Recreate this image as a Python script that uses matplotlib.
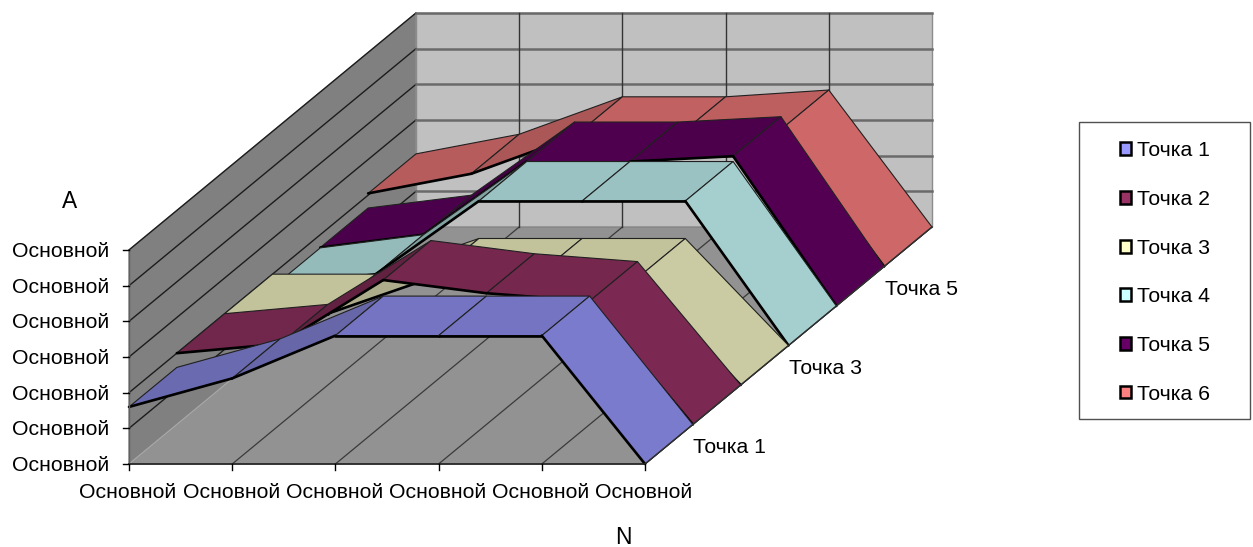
import numpy as np
import matplotlib
matplotlib.use("Agg")
import matplotlib.pyplot as plt
from matplotlib.patches import Polygon, Patch, Rectangle

plt.rcParams['font.family'] = ['Liberation Sans', 'DejaVu Sans']

categories = ["Основной"] * 6
value_labels = ["Основной"] * 7
series_names = ["Точка 1", "Точка 2", "Точка 3", "Точка 4", "Точка 5", "Точка 6"]
depth_labels = {0: "Точка 1", 2: "Точка 3", 4: "Точка 5"}

series_1 = [1.6, 2.4, 3.6, 3.6, 3.6, 0]
series_2 = [2.0, 2.26, 4.05, 3.68, 3.46, 0]
series_3 = [2.0, 2.0, 3.0, 3.0, 3.0, 0]
series_4 = [1.63, 2.0, 4.05, 4.05, 4.05, 0]
series_5 = [1.64, 2.0, 4.05, 4.05, 4.2, 0]
series_6 = [2.05, 2.6, 3.65, 3.65, 3.84, 0]
all_series = [series_1, series_2, series_3, series_4, series_5, series_6]

colors = ["#9999FF", "#993366", "#FFFFCC", "#CCFFFF", "#660066", "#FF8080"]

# oblique projection of the 3d box: origin, then px per category, series, value
X0, Y0 = 129.0, 464.0
CAT_X = 103.2
SER_X, SER_Y = 47.83, -39.5
VAL_Y = -35.67
FONT = 15.35


def proj(cat, ser, val):
    return (X0 + CAT_X * cat + SER_X * ser, Y0 + SER_Y * ser + VAL_Y * val)


def shade(color, slope):
    # steeper rising faces get less light
    f = np.interp(slope, [-4, 0, 1.5], [0.81, 0.76, 0.64])
    r, g, b = matplotlib.colors.to_rgb(color)
    return (r * f, g * f, b * f)


fig = plt.figure(figsize=(12.53, 5.47), dpi=100)
ax = fig.add_axes([0, 0, 1, 1])
ax.set_xlim(0, 1253)
ax.set_ylim(547, 0)
ax.axis("off")

n_cat = len(categories) - 1
n_ser = len(all_series)
n_val = len(value_labels) - 1

# walls and floor
left_wall = [proj(0, 0, 0), proj(0, n_ser, 0), proj(0, n_ser, n_val), proj(0, 0, n_val)]
back_wall = [proj(0, n_ser, 0), proj(n_cat, n_ser, 0), proj(n_cat, n_ser, n_val), proj(0, n_ser, n_val)]
floor = [proj(0, 0, 0), proj(n_cat, 0, 0), proj(n_cat, n_ser, 0), proj(0, n_ser, 0)]
ax.add_patch(Polygon(left_wall, fc="#808080", ec="#8c8c8c", lw=1, zorder=1))
ax.add_patch(Polygon(back_wall, fc="#C0C0C0", ec="#8c8c8c", lw=1, zorder=1))
ax.add_patch(Polygon(floor, fc="#929292", ec="#808080", lw=0.8, zorder=1))

# gridlines on the walls and the floor
for v in range(1, n_val + 1):
    a, b, c = proj(0, 0, v), proj(0, n_ser, v), proj(n_cat, n_ser, v)
    ax.plot([a[0], b[0]], [a[1], b[1]], color="#1c1c1c", lw=1, zorder=2)
    ax.plot([b[0], c[0]], [b[1], c[1]], color="#6a6a6a", lw=1.8, zorder=2)
for c in range(n_cat + 1):
    a, b, d = proj(c, 0, 0), proj(c, n_ser, 0), proj(c, n_ser, n_val)
    ax.plot([a[0], b[0]], [a[1], b[1]], color="#3a3a3a" if c else "#a8a8a8", lw=0.9, zorder=2)
    if 0 < c < n_cat:
        ax.plot([b[0], d[0]], [b[1], d[1]], color="#333333", lw=1, zorder=2)

# ribbons, from the back series to the front one; each face stacks over the last
z = 3.0
for k in reversed(range(n_ser)):
    vals = all_series[k]
    for i in range(n_cat):
        p1 = proj(i, k, vals[i])
        p2 = proj(i + 1, k, vals[i + 1])
        p3 = proj(i + 1, k + 1, vals[i + 1])
        p4 = proj(i, k + 1, vals[i])
        ax.add_patch(Polygon([p1, p2, p3, p4], fc=shade(colors[k], vals[i + 1] - vals[i]),
                             ec="#202020", lw=0.8, joinstyle="round", zorder=z))
        ax.plot([p1[0], p2[0]], [p1[1], p2[1]], color="black", lw=1.9,
                solid_capstyle="round", zorder=z + 0.01)
        z += 0.1

# axes lines and ticks
a, b, c = proj(0, 0, 0), proj(n_cat, 0, 0), proj(n_cat, n_ser, 0)
ax.plot([a[0], b[0]], [a[1], b[1]], color="#202020", lw=1.2, zorder=z)
ax.plot([b[0], c[0]], [b[1], c[1]], color="#303030", lw=1, zorder=z)
ax.plot([X0, X0], [proj(0, 0, 0)[1], proj(0, 0, n_val)[1]], color="#606060", lw=1, zorder=z)

for i, lab in enumerate(value_labels):
    x, y = proj(0, 0, i)
    ax.plot([x - 6, x], [y, y], color="black", lw=1, zorder=z)
    ax.text(x - 20, y + 1.5, lab, ha="right", va="center", fontsize=FONT, color="black")
for i, lab in enumerate(categories):
    x, y = proj(i, 0, 0)
    ax.plot([x, x], [y, y + 6], color="black", lw=1, zorder=z)
    ax.text(x - 1, y + 29, lab, ha="center", va="center", fontsize=FONT, color="black")
for k, lab in depth_labels.items():
    x, y = proj(n_cat, k + 0.5, 0)
    ax.text(x + 24.5, y + 3.5, lab, ha="left", va="center", fontsize=FONT, color="black")

ax.text(70, 202, "А", ha="center", va="center", fontsize=FONT + 1, color="black")
ax.text(623, 537, "N", ha="center", va="center", fontsize=FONT + 1, color="black")

# legend frame is wider than its content, so it is drawn separately
ax.add_patch(Rectangle((1079, 122), 171, 297, fc="white", ec="#505050", lw=1, zorder=1))
handles = [Patch(fc=col, ec="black", lw=1.8, label=name) for col, name in zip(colors, series_names)]
leg = ax.legend(handles=handles, loc="center left", bbox_to_anchor=(1119.5, 272.5),
                bbox_transform=ax.transData, frameon=False, fontsize=FONT, borderpad=0,
                borderaxespad=0, handlelength=0.55, handleheight=0.55, handletextpad=0.25,
                labelspacing=1.39)

fig.savefig("out.png", dpi=100)
